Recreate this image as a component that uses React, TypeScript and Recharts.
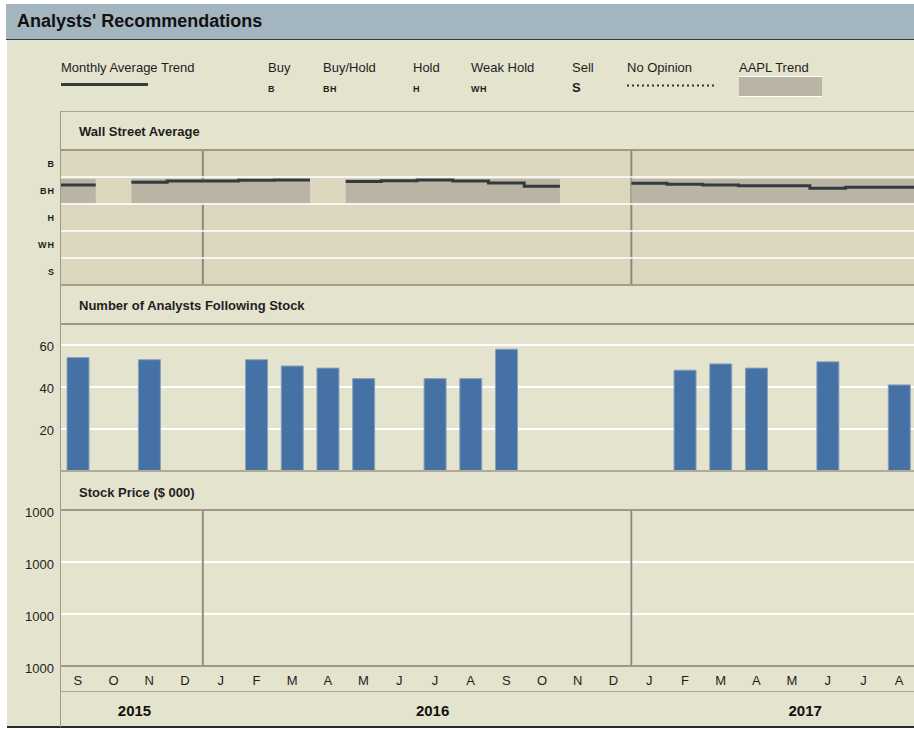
import {
  ComposedChart,
  BarChart,
  Bar,
  Line,
  Area,
  XAxis,
  YAxis,
  CartesianGrid,
  ReferenceLine,
} from "recharts";

const months = ["S", "O", "N", "D", "J", "F", "M", "A", "M", "J", "J", "A", "S", "O", "N", "D", "J", "F", "M", "A", "M", "J", "J", "A"];
const years = ["2015", "2016", "2017"];
const monthsPerYear = [4, 12, 8];
const ratingLabels = ["B", "BH", "H", "WH", "S"];

// 1 = Buy ... 5 = Sell
const monthlyAverage = [1.8, null, 1.69, 1.65, 1.65, 1.62, 1.61, null, 1.67, 1.64, 1.61, 1.65, 1.72, 1.84, null, null, 1.73, 1.77, 1.8, 1.82, 1.82, 1.92, 1.88, 1.88];
const aaplTrend = [2, null, 2, 2, 2, 2, 2, null, 2, 2, 2, 2, 2, 2, null, null, 2, 2, 2, 2, 2, 2, 2, 2];
const analystCount = [54, null, 53, null, null, 53, 50, 49, 44, null, 44, 44, 58, null, null, null, null, 48, 51, 49, null, 52, null, 41];
const priceTicks = ["1000", "1000", "1000", "1000"];

const CHART_W = 917;
const AXIS_W = 60;
const BG = "#e4e3cd";
const RULE = "#9e9884";
const SEP = "#8f8a77";

// month boundaries of each year, and the middle of each year span
const yearStarts = monthsPerYear.map((_, i) => monthsPerYear.slice(0, i).reduce((a, b) => a + b, 0));
const yearCenters = yearStarts.map((s, i) => s + monthsPerYear[i] / 2);
const yearSeps = yearStarts.slice(1);
const monthCenters = months.map((_, i) => i + 0.5);

// step data: each month spans [i, i+1]
const stepData: any[] = [];
months.forEach((_, i) => {
  const avg = monthlyAverage[i];
  const t = aaplTrend[i];
  if (avg == null && t == null) {
    stepData.push({ x: i + 0.5, avg: null, band: null });
    return;
  }
  const band = t == null ? null : [t - 0.43, t + 0.46];
  stepData.push({ x: i, avg, band }, { x: i + 1, avg, band });
});

const barData = months.map((m, i) => ({ i, month: m, n: analystCount[i] }));
const priceData = months.map((m, i) => ({ x: i + 0.5, month: m }));

const hLine = (top: number, h: number, color: string, left = AXIS_W, width = 914 - AXIS_W) => (
  <div style={{ position: "absolute", left, top, width, height: h, background: color }} />
);

const text = (t: string, left: number, top: number, style: any = {}) => (
  <div style={{ position: "absolute", left, top, whiteSpace: "nowrap", fontSize: 13, lineHeight: "16px", color: "#1e1e1e", ...style }}>
    {t}
  </div>
);

const Legend = () => {
  const codes = [
    { name: "Buy", code: "B", x: 268 },
    { name: "Buy/Hold", code: "BH", x: 323 },
    { name: "Hold", code: "H", x: 413 },
    { name: "Weak Hold", code: "WH", x: 471 },
  ];
  return (
    <>
      {text("Monthly Average Trend", 61, 60)}
      <div style={{ position: "absolute", left: 61, top: 83, width: 87, height: 3, background: "#343c41" }} />
      {codes.map((c) => (
        <div key={c.code}>
          {text(c.name, c.x, 60)}
          {text(c.code, c.x, 84, { fontSize: 9, fontWeight: "bold", lineHeight: "10px", letterSpacing: "0.5px" })}
        </div>
      ))}
      {text("Sell", 572, 60)}
      {text("S", 572, 80, { fontSize: 13, fontWeight: "bold" })}
      {text("No Opinion", 627, 60)}
      <svg style={{ position: "absolute", left: 627, top: 84 }} width={89} height={3}>
        <line x1={0} y1={1.5} x2={89} y2={1.5} stroke="#333" strokeWidth={2} strokeDasharray="2 3" />
      </svg>
      {text("AAPL Trend", 739, 60)}
      <div
        style={{
          position: "absolute",
          left: 739,
          top: 76,
          width: 83,
          height: 21,
          boxSizing: "border-box",
          background: "#bab4a4",
          borderTop: "1px solid #fff",
          borderBottom: "1px solid #fff",
        }}
      />
    </>
  );
};

export default function App() {
  return (
    <div
      style={{
        position: "absolute",
        left: 0,
        top: 0,
        width: 914,
        height: 730,
        overflow: "hidden",
        background: "#fff",
        fontFamily: "'Liberation Sans', Arial, sans-serif",
      }}
    >
      {/* title bar */}
      <div
        style={{
          position: "absolute",
          left: 6,
          top: 4,
          width: 908,
          height: 35,
          background: "#a3b5bf",
          borderBottom: "1px solid #3a3a3a",
        }}
      />
      {text("Analysts' Recommendations", 17, 9, { fontSize: 18, fontWeight: "bold", lineHeight: "24px", color: "#111" })}

      <div style={{ position: "absolute", left: 7, top: 40, width: 907, height: 687, background: BG }} />
      <Legend />

      {/* Wall Street Average */}
      {text("Wall Street Average", 79, 124, { fontWeight: "bold" })}
      <div style={{ position: "absolute", left: 0, top: 150 }}>
        <ComposedChart width={CHART_W} height={135} data={stepData} margin={{ top: 0, right: 0, bottom: 0, left: 0 }}>
          <CartesianGrid
            horizontal={false}
            verticalValues={yearSeps}
            fill="#dcd6be"
            stroke={SEP}
            strokeWidth={2}
            strokeDasharray=""
          />
          <XAxis dataKey="x" type="number" domain={[0, months.length]} allowDataOverflow hide />
          <YAxis
            type="number"
            domain={[0.5, ratingLabels.length + 0.5]}
            allowDataOverflow
            reversed
            ticks={ratingLabels.map((_, i) => i + 1)}
            tickFormatter={(v: number) => ratingLabels[v - 1]}
            width={AXIS_W}
            axisLine={false}
            tickLine={false}
            tickSize={3}
            tickMargin={2}
            tick={{ fontSize: 9, fontWeight: "bold", fill: "#1e1e1e", letterSpacing: "1px" }}
          />
          <Area type="linear" dataKey="band" fill="#bab4a4" fillOpacity={1} stroke="none" isAnimationActive={false} />
          {ratingLabels.slice(1).map((_, i) => (
            <ReferenceLine key={i} y={i + 1.5} stroke="#fff" strokeWidth={1.5} />
          ))}
          <Line type="linear" dataKey="avg" stroke="#323b40" strokeWidth={3} dot={false} activeDot={false} isAnimationActive={false} />
        </ComposedChart>
      </div>

      {/* Number of Analysts */}
      {text("Number of Analysts Following Stock", 79, 298, { fontWeight: "bold" })}
      <div style={{ position: "absolute", left: 0, top: 324 }}>
        <BarChart width={CHART_W} height={147} data={barData} margin={{ top: 0, right: 0, bottom: 0, left: 0 }} barCategoryGap={0}>
          <CartesianGrid vertical={false} stroke="#fff" strokeWidth={2} strokeDasharray="" />
          <XAxis dataKey="i" hide />
          <YAxis
            type="number"
            domain={[0, 70]}
            ticks={[20, 40, 60]}
            width={AXIS_W}
            axisLine={false}
            tickLine={false}
            tickSize={4}
            tickMargin={2}
            tick={{ fontSize: 13, fill: "#1e1e1e", dy: 1 }}
          />
          <Bar dataKey="n" fill="#4571a5" stroke="#8aa0bb" strokeWidth={1} barSize={22} isAnimationActive={false} />
        </BarChart>
      </div>

      {/* Stock Price */}
      {text("Stock Price ($ 000)", 79, 485, { fontWeight: "bold" })}
      <div style={{ position: "absolute", left: 0, top: 500 }}>
        <ComposedChart width={CHART_W} height={227} data={priceData} margin={{ top: 10, right: 0, bottom: 0, left: 0 }}>
          <CartesianGrid
            horizontalValues={priceTicks.slice(1, -1).map((_, i) => i + 1)}
            verticalValues={yearSeps}
            stroke="#fff"
            strokeWidth={2}
            strokeDasharray=""
          />
          <XAxis
            dataKey="x"
            type="number"
            domain={[0, months.length]}
            allowDataOverflow
            ticks={monthCenters}
            tickFormatter={(v: number) => months[Math.floor(v)]}
            interval={0}
            height={25}
            axisLine={false}
            tickLine={false}
            tickSize={6}
            tickMargin={4}
            tick={{ fontSize: 13, fill: "#1e1e1e" }}
          />
          <XAxis
            xAxisId="yr"
            type="number"
            domain={[0, months.length]}
            allowDataOverflow
            ticks={yearCenters}
            tickFormatter={(v: number) => years[yearCenters.indexOf(v)]}
            interval={0}
            height={36}
            axisLine={false}
            tickLine={false}
            tickSize={12}
            tickMargin={2}
            tick={{ fontSize: 15, fontWeight: "bold", fill: "#111" }}
          />
          <YAxis
            type="number"
            domain={[0, priceTicks.length - 1]}
            allowDataOverflow
            ticks={priceTicks.map((_, i) => i)}
            tickFormatter={(v: number) => priceTicks[v]}
            interval={0}
            width={AXIS_W}
            axisLine={false}
            tickLine={false}
            tickSize={4}
            tickMargin={2}
            tick={{ fontSize: 13, fill: "#1e1e1e", dy: 2 }}
          />
          {yearSeps.map((s) => (
            <ReferenceLine key={s} x={s} stroke={SEP} strokeWidth={2} />
          ))}
        </ComposedChart>
      </div>

      {/* panel rules */}
      {hLine(111, 1, "#aaa591")}
      {hLine(149, 2, RULE)}
      {hLine(284, 2, "#a5a08c")}
      {hLine(323, 2, RULE)}
      {hLine(470, 2, "#b0ab97")}
      {hLine(509, 2, RULE)}
      {hLine(665, 2, RULE)}
      {hLine(691, 1, "#aaa591")}
      {hLine(726, 2, "#2b2b2b", 7, 907)}
      <div style={{ position: "absolute", left: 60, top: 111, width: 1, height: 616, background: "#a09b87" }} />
    </div>
  );
}
